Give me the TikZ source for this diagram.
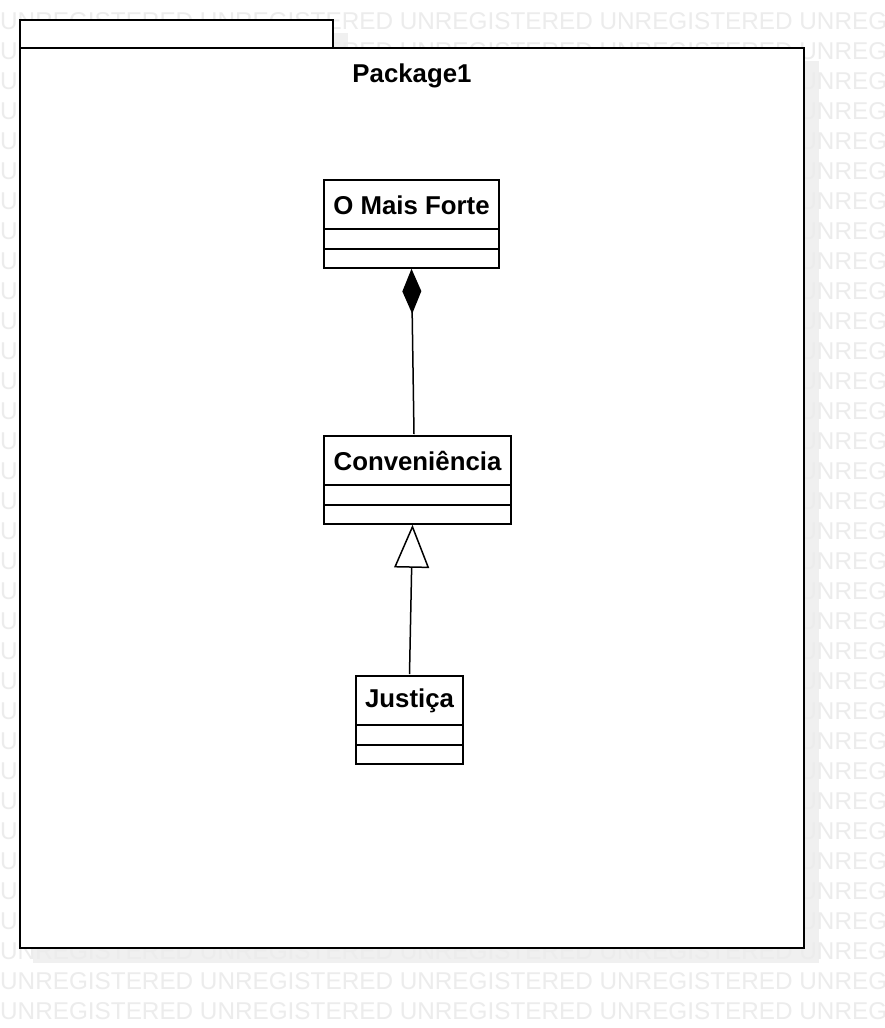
\documentclass[tikz,border=0pt]{standalone}
\usepackage{fontspec}
\setmainfont{Liberation Sans}
\usetikzlibrary{arrows.meta}
\pgfdeclarelayer{bg}
\pgfdeclarelayer{wm}
\pgfsetlayers{bg,wm,main}
\definecolor{shadowc}{HTML}{F0F0F0}
\definecolor{wmc}{HTML}{ECECEC}
\tikzset{
  box/.style={draw=black, fill=white, line width=1.6pt, rectangle, inner sep=0pt},
  cname/.style={font=\fontsize{25.8}{28}\selectfont\bfseries, inner sep=0pt},
  wmtext/.style={font=\fontsize{24.3}{26}\selectfont, text=wmc, inner sep=0pt, anchor=base west},
  conn/.style={line width=1.5pt, draw=black},
  comp/.style={conn, -{Diamond[length=45pt,width=19pt,fill=black]}},
  gen/.style={conn, -{Triangle[open,length=43pt,width=35pt,fill=white,line width=1.5pt]}},
}
\begin{document}
\begin{tikzpicture}[x=1pt,y=-1pt]
\useasboundingbox (0,0) rectangle (884,1028);

% package
\node[box, minimum width=313pt, minimum height=28pt] (tab) at (176.5,34) {};
\node[box, minimum width=784pt, minimum height=900pt] (pkg) at (412,498) {};
\node[cname] (pkgname) at (412,75.5) {Package1};

% classes
\node[box, minimum width=175pt, minimum height=88pt] (omf) at (411.5,224) {};
\node[cname] (omfn) at (411.5,205) {O Mais Forte};
\draw[line width=1.6pt] ([yshift=-50pt]omf.north west) -- ([yshift=-50pt]omf.north east);
\draw[line width=1.6pt] ([yshift=-70pt]omf.north west) -- ([yshift=-70pt]omf.north east);

\node[box, minimum width=187pt, minimum height=88pt] (conv) at (417.5,480) {};
\node[cname] (convn) at (417.5,461) {Conveniência};
\draw[line width=1.6pt] ([yshift=-50pt]conv.north west) -- ([yshift=-50pt]conv.north east);
\draw[line width=1.6pt] ([yshift=-70pt]conv.north west) -- ([yshift=-70pt]conv.north east);

\node[box, minimum width=107pt, minimum height=88pt] (just) at (409.5,720) {};
\node[cname] (justn) at (409.5,700.5) {Justiça};
\draw[line width=1.6pt] ([yshift=-50pt]just.north west) -- ([yshift=-50pt]just.north east);
\draw[line width=1.6pt] ([yshift=-70pt]just.north west) -- ([yshift=-70pt]just.north east);

% background and shadows
\begin{pgfonlayer}{bg}
\fill[white] (0,0) rectangle (884,1028);
\foreach \n in {tab,pkg,omf,conv,just}{
  \fill[shadowc] ([xshift=14pt,yshift=-14pt]\n.north west) rectangle ([xshift=14pt,yshift=-14pt]\n.south east);
}
\end{pgfonlayer}

% watermark
\begin{pgfonlayer}{wm}
\foreach \k in {-1,...,33}{
  \node[wmtext] (wm\k) at (0,{29.5+30*\k}) {UNREGISTERED UNREGISTERED UNREGISTERED UNREGISTERED UNREGISTERED};
}
\end{pgfonlayer}

% connectors
\draw[comp] ([xshift=-3.5pt,yshift=1pt]conv.north) -- (omf.south);
\draw[gen] ([yshift=1pt]just.north) -- ([xshift=-5pt]conv.south);
\end{tikzpicture}
\end{document}
